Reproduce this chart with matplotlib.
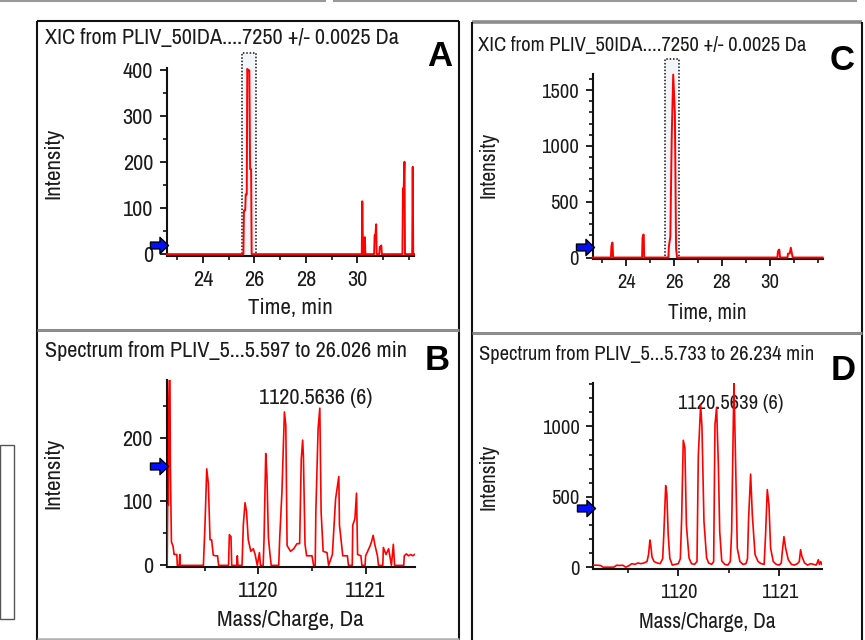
import matplotlib
matplotlib.use("Agg")
import matplotlib.pyplot as plt
from matplotlib.lines import Line2D
from matplotlib.patches import Rectangle
from matplotlib.path import Path
from matplotlib.ticker import MultipleLocator, FixedLocator

# ---------------- data ----------------
xic_ticks = [24, 26, 28, 30]

xic_a_time = [22.60, 25.57, 25.59, 25.64, 25.66, 25.70, 25.72, 25.76, 25.80, 25.83, 25.87, 25.89,
              30.17, 30.19, 30.22, 30.26, 30.29, 30.31,
              30.65, 30.67, 30.70, 30.73, 30.75, 30.85, 30.87, 30.90, 30.93, 30.95,
              31.75, 31.77, 31.80, 31.83, 31.85, 32.13, 32.15, 32.17, 32.20]
xic_a_int = [0, 0, 95, 95, 130, 130, 403, 400, 400, 185, 185, 0,
             0, 115, 0, 0, 37, 0,
             0, 41, 41, 65, 0, 0, 16, 16, 19, 0,
             0, 143, 143, 201, 0, 0, 190, 0, 0]
xic_a_window = [25.53, 26.05, 437]
xic_a_arrow = 20

xic_c_time = [22.60, 23.36, 23.38, 23.41, 23.43, 23.45,
              24.66, 24.68, 24.71, 24.73, 24.75,
              25.76, 25.78, 25.84, 25.90, 25.96, 26.03, 26.08, 26.12,
              30.31, 30.33, 30.37, 30.39, 30.42,
              30.73, 30.75, 30.82, 30.87, 30.91, 30.95, 32.20]
xic_c_int = [0, 0, 97, 133, 133, 0,
             0, 177, 205, 205, 0,
             0, 100, 186, 1100, 1640, 1290, 80, 0,
             0, 53, 70, 70, 0,
             0, 35, 35, 88, 40, 0, 0]
xic_c_window = [25.63, 26.22, 1779]
xic_c_arrow = 97

spec_b_mz = [1119.150, 1119.155, 1119.163, 1119.166, 1119.171, 1119.176, 1119.180, 1119.190, 1119.205,
             1119.215, 1119.225, 1119.240, 1119.245, 1119.262, 1119.268, 1119.272,
             1119.488, 1119.503, 1119.519, 1119.534, 1119.550, 1119.565, 1119.580, 1119.600, 1119.620, 1119.630,
             1119.722, 1119.730, 1119.745, 1119.752,
             1119.798, 1119.804, 1119.810,
             1119.848, 1119.860, 1119.876, 1119.890, 1119.906, 1119.930, 1119.953, 1119.970, 1119.990, 1120.010, 1120.020,
             1120.045, 1120.053, 1120.069, 1120.080, 1120.094, 1120.110, 1120.120,
             1120.190, 1120.199, 1120.220, 1120.243, 1120.256, 1120.268, 1120.300, 1120.330, 1120.360,
             1120.385, 1120.400, 1120.413, 1120.420, 1120.435, 1120.450, 1120.500, 1120.515,
             1120.530, 1120.536, 1120.557, 1120.573, 1120.585, 1120.604, 1120.640, 1120.655,
             1120.690, 1120.720, 1120.750, 1120.756, 1120.787, 1120.830, 1120.840,
             1120.875, 1120.880, 1120.900, 1120.915, 1120.925, 1120.956, 1120.965,
             1120.995, 1121.000, 1121.040, 1121.055, 1121.070, 1121.085, 1121.110, 1121.120,
             1121.160, 1121.165, 1121.190, 1121.214, 1121.240, 1121.258, 1121.270,
             1121.355, 1121.360, 1121.380, 1121.400, 1121.420, 1121.440, 1121.455]
spec_b_int = [0, 94, 94, 262, 300, 300, 159, 37, 30,
              17, 17, 17, 0, 0, 17, 0,
              0, 64, 151, 128, 40, 40, 16, 15, 15, 0,
              0, 48, 45, 0,
              0, 15, 0,
              0, 63, 98, 84, 40, 22, 26, 17, 0, 20, 0,
              0, 40, 175, 140, 43, 15, 0,
              0, 42, 115, 240, 219, 31, 22, 26, 34,
              34, 166, 196, 171, 33, 15, 15, 0,
              0, 84, 214, 246, 84, 22, 20, 0,
              17, 104, 139, 63, 15, 15, 0,
              0, 63, 73, 113, 17, 15, 0,
              0, 15, 30, 37, 47, 33, 15, 0,
              0, 28, 17, 26, 0, 33, 0,
              0, 15, 18, 15, 17, 15, 17]
spec_b_label = "1120.5636 (6)"
spec_b_arrow = 156

spec_d_mz = [1119.158, 1119.180, 1119.200, 1119.230, 1119.255, 1119.270, 1119.300, 1119.330, 1119.360,
             1119.390, 1119.420, 1119.450, 1119.480, 1119.510, 1119.540, 1119.570, 1119.600, 1119.630,
             1119.660, 1119.690, 1119.705, 1119.719, 1119.728, 1119.740, 1119.760, 1119.790, 1119.820,
             1119.845, 1119.856, 1119.875, 1119.886, 1119.900, 1119.916, 1119.940, 1119.970, 1120.000,
             1120.020, 1120.033, 1120.049, 1120.065, 1120.080, 1120.106, 1120.130, 1120.160, 1120.185,
             1120.198, 1120.221, 1120.234, 1120.254, 1120.280, 1120.300, 1120.330, 1120.350,
             1120.363, 1120.379, 1120.396, 1120.410, 1120.430, 1120.460, 1120.490, 1120.515,
             1120.528, 1120.545, 1120.551, 1120.567, 1120.584, 1120.610, 1120.640, 1120.670,
             1120.685, 1120.696, 1120.716, 1120.733, 1120.760, 1120.790, 1120.820, 1120.850,
             1120.864, 1120.881, 1120.898, 1120.914, 1120.940, 1120.970, 1121.000, 1121.020,
             1121.030, 1121.046, 1121.063, 1121.089, 1121.120, 1121.150, 1121.180, 1121.198,
             1121.211, 1121.224, 1121.250, 1121.280, 1121.310, 1121.340, 1121.365, 1121.375,
             1121.386, 1121.398, 1121.410, 1121.420]
spec_d_int = [14, 14, 14, 12, 0, 0, 0, 0, 0,
              14, 12, 14, 0, 10, 25, 20, 30, 25,
              30, 40, 90, 193, 150, 70, 40, 30, 25,
              60, 228, 579, 520, 228, 62, 15, 20, 25,
              60, 345, 901, 848, 300, 66, 25, 20, 40,
              789, 1151, 996, 325, 66, 30, 20, 40,
              1011, 1135, 743, 253, 45, 20, 15, 40,
              253, 1047, 1308, 754, 135, 40, 20, 25,
              60, 345, 661, 369, 89, 40, 25, 20,
              228, 551, 439, 135, 40, 20, 15, 30,
              112, 217, 135, 53, 20, 15, 25, 40,
              124, 77, 30, 15, 25, 20, 15, 29,
              53, 19, 40, 20]
spec_d_label = "1120.5639 (6)"
spec_d_arrow = 420

# ---------------- helpers ----------------
W, H = 865, 640
fig = plt.figure(figsize=(W / 100, H / 100), dpi=100)
fig.patch.set_facecolor("white")

NARROW = ["Archivo Narrow", "DejaVu Sans"]
BOLD = ["Liberation Sans", "DejaVu Sans"]
TXT = "#1b1b1b"
FS_L, FS_R = 16, 14.8          # left / right column text sizes
LAB_L, LAB_R = 16.5, 15.4


def fx(px):
    return px / W


def fy(py):
    return 1 - py / H


def fline(xs, ys, color, lw):
    fig.add_artist(Line2D([fx(x) for x in xs], [fy(y) for y in ys],
                          transform=fig.transFigure, color=color, lw=lw,
                          solid_capstyle="butt"))


def add_ax(l, t, r, b):
    return fig.add_axes([fx(l), fy(b), (r - l) / W, (b - t) / H])


arrow_path = Path([(-1, -0.38), (0.05, -0.38), (0.05, -0.9), (1, 0), (0.05, 0.9),
                   (0.05, 0.38), (-1, 0.38), (-1, -0.38)],
                  [Path.MOVETO] + [Path.LINETO] * 6 + [Path.CLOSEPOLY])


def style_ax(ax, xmaj, xmin, ymaj, ymin, fs):
    for s in ("top", "right"):
        ax.spines[s].set_visible(False)
    for s in ("left", "bottom"):
        ax.spines[s].set_linewidth(1.5)
        ax.spines[s].set_color("#111111")
    if isinstance(xmaj, list):
        ax.xaxis.set_major_locator(FixedLocator(xmaj))
    else:
        ax.xaxis.set_major_locator(MultipleLocator(xmaj))
    ax.xaxis.set_minor_locator(MultipleLocator(xmin))
    ax.yaxis.set_major_locator(MultipleLocator(ymaj))
    ax.yaxis.set_minor_locator(MultipleLocator(ymin))
    ax.tick_params(which="major", direction="out", length=5, width=1.3,
                   color="#111111", labelsize=fs, labelcolor=TXT, pad=5)
    ax.tick_params(which="minor", direction="out", length=3, width=1.2,
                   color="#111111")
    for lab in ax.get_xticklabels() + ax.get_yticklabels():
        lab.set_family(NARROW)
    ax.set_facecolor("none")


def arrow(ax, val):
    ax.plot([-0.032], [val], transform=ax.get_yaxis_transform(), marker=arrow_path,
            ms=13, mfc="#0010ff", mec="#000000", mew=1.0, clip_on=False, zorder=6)


# ---------------- panel frames ----------------
fline([0, 326], [0.8, 0.8], "#9a9a9a", 1.5)
fline([333, 857], [0.8, 0.8], "#9a9a9a", 1.5)
fline([36.5, 459.3], [20.5, 20.5], "#111111", 1.5)
fline([36.5, 36.5], [20.5, 640], "#111111", 1.5)
fline([459.3, 459.3], [20.5, 640], "#111111", 1.5)
fline([36.5, 459.3], [329.5, 329.5], "#8c8c8c", 2.2)
fline([36.5, 459.3], [638.5, 638.5], "#b0b0b0", 1.8)
fline([471.8, 862.3], [22.0, 22.0], "#8c8c8c", 2.6)
fline([471.8, 471.8], [22.0, 640], "#111111", 1.5)
fline([862.3, 862.3], [22.0, 640], "#111111", 1.5)
fline([471.8, 862.3], [332.7, 332.7], "#8c8c8c", 2.2)
fig.add_artist(Rectangle((fx(0), fy(619)), fx(14), (619 - 445) / H, transform=fig.transFigure,
                         fill=False, edgecolor="#555555", lw=1.0))

# ---------------- panel A ----------------
axA = add_ax(167, 68, 414, 256)
style_ax(axA, xic_ticks, 1, 100, 50, FS_L)
axA.set_xlim(22.6, 32.2)
axA.set_ylim(-4, 405)
axA.add_patch(Rectangle((xic_a_window[0], -4), xic_a_window[1] - xic_a_window[0],
                        xic_a_window[2] + 4, fill=True, facecolor="#f2f6fb", edgecolor="#111111",
                        ls=(0, (1, 1.2)), lw=1.1, clip_on=False, zorder=1))
axA.plot(xic_a_time, xic_a_int, color="#ff0000", lw=1.4, zorder=3, clip_on=False)
arrow(axA, xic_a_arrow)

# ---------------- panel C ----------------
axC = add_ax(592.7, 74, 822.7, 259.3)
style_ax(axC, xic_ticks, 1, 500, 100, FS_R)
axC.set_xlim(22.6, 32.2)
axC.set_ylim(-16, 1645)
axC.add_patch(Rectangle((xic_c_window[0], -16), xic_c_window[1] - xic_c_window[0],
                        xic_c_window[2] + 16, fill=True, facecolor="#f2f6fb", edgecolor="#111111",
                        ls=(0, (1, 1.2)), lw=1.1, clip_on=False, zorder=1))
axC.plot(xic_c_time, xic_c_int, color="#ff0000", lw=1.4, zorder=3, clip_on=False)
arrow(axC, xic_c_arrow)

# ---------------- panel B ----------------
axB = add_ax(166.7, 380, 415, 567.3)
style_ax(axB, 1, 0.5, 100, 50, FS_L)
axB.set_xlim(1119.146, 1121.46)
axB.set_ylim(-3, 290)
axB.plot(spec_b_mz, spec_b_int, color="#ff0000", lw=1.2, zorder=3)
axB.text(0.6, 0.905, spec_b_label, transform=axB.transAxes, ha="center", va="center",
         fontsize=FS_L, family=NARROW, color=TXT, zorder=1)
arrow(axB, spec_b_arrow)

# ---------------- panel D ----------------
axD = add_ax(593.3, 382.7, 821.7, 569.3)
style_ax(axD, 1, 0.5, 500, 100, FS_R)
axD.set_xlim(1119.158, 1121.42)
axD.set_ylim(-15, 1310)
axD.plot(spec_d_mz, spec_d_int, color="#ff0000", lw=1.2, zorder=3)
axD.text(0.6, 0.89, spec_d_label, transform=axD.transAxes, ha="center", va="center",
         fontsize=FS_R, family=NARROW, color=TXT, zorder=1)
arrow(axD, spec_d_arrow)

# ---------------- texts ----------------
titles = [("XIC from PLIV_50IDA....7250 +/- 0.0025 Da", 45, 38, FS_L),
          ("XIC from PLIV_50IDA....7250 +/- 0.0025 Da", 478, 45, FS_R),
          ("Spectrum from PLIV_5...5.597 to 26.026 min", 45, 351, FS_L),
          ("Spectrum from PLIV_5...5.733 to 26.234 min", 479, 355, FS_R)]
for t, x, y, fs in titles:
    fig.text(fx(x), fy(y), t, ha="left", va="center", fontsize=fs, family=NARROW, color=TXT)

for lab, x, y, fs in [("Intensity", 53, 163, LAB_L), ("Intensity", 488, 165, LAB_R),
                      ("Intensity", 53, 473, LAB_L), ("Intensity", 488, 477, LAB_R)]:
    fig.text(fx(x), fy(y), lab, rotation=90, ha="center", va="center", fontsize=fs,
             family=NARROW, color=TXT)

for lab, x, y, fs in [("Time, min", 290, 308, LAB_L), ("Time, min", 707, 313, LAB_R),
                      ("Mass/Charge, Da", 290, 620, LAB_L), ("Mass/Charge, Da", 707, 622, LAB_R)]:
    fig.text(fx(x), fy(y), lab, ha="center", va="center", fontsize=fs, family=NARROW, color=TXT)

for lab, x, y in [("A", 440, 57), ("B", 437, 360), ("C", 842, 61), ("D", 843, 371)]:
    fig.text(fx(x), fy(y), lab, ha="center", va="center", fontsize=25, fontweight="bold",
             family=BOLD, color="black")

fig.savefig("out.png", dpi=100)
